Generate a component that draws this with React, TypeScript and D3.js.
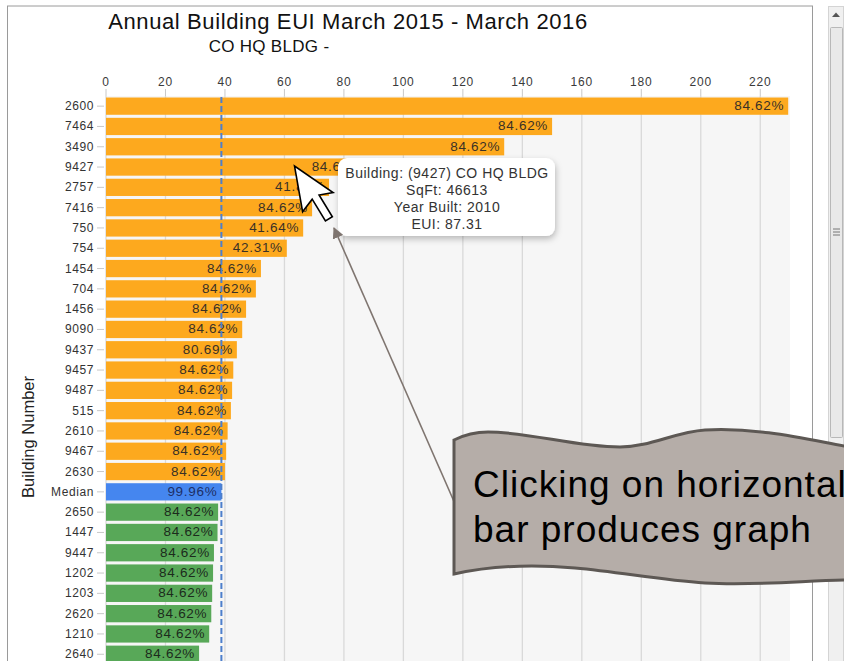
import * as d3 from "d3";
import React from "react";

// building order as shown, top to bottom
const buildings = [
  "2600", "7464", "3490", "9427", "2757", "7416", "750", "754", "1454", "704",
  "1456", "9090", "9437", "9457", "9487", "515", "2610", "9467", "2630", "Median",
  "2650", "1447", "9447", "1202", "1203", "2620", "1210", "2640",
];
// annual EUI per building
const euiValues = [
  229.4, 150, 133.9, 87.31, 75, 69.3, 66.3, 60.8, 52.1, 50.4,
  47.1, 45.8, 44, 42.8, 42.4, 42, 40.9, 40.4, 40, 38.8,
  37.7, 37.5, 36.3, 36, 35.7, 35.4, 34.7, 31.3,
];
// percent labels printed on the bars
const pctLabels = [
  "84.62%", "84.62%", "84.62%", "84.62%", "41.81%", "84.62%", "41.64%", "42.31%", "84.62%", "84.62%",
  "84.62%", "84.62%", "80.69%", "84.62%", "84.62%", "84.62%", "84.62%", "84.62%", "84.62%", "99.96%",
  "84.62%", "84.62%", "84.62%", "84.62%", "84.62%", "84.62%", "84.62%", "84.62%",
];
const xTicks = [0, 20, 40, 60, 80, 100, 120, 140, 160, 180, 200, 220];
const tooltipLines = ["Building: (9427) CO HQ BLDG", "SqFt: 46613", "Year Built: 2010", "EUI: 87.31"];

const W = 844;
const H = 661;
const FONT = "'Liberation Sans', Arial, sans-serif";

export default function App() {
  const x = d3.scaleLinear().domain([0, 230]).range([106, 790]);
  const y = d3
    .scaleBand()
    .domain(buildings)
    .range([96, 96 + buildings.length * 20.3])
    .paddingInner(0.15)
    .paddingOuter(0.075);

  const medianIdx = buildings.indexOf("Median");
  const medianVal = euiValues[medianIdx];
  const plotTop = 96;

  const colorFor = (i: number) =>
    i < medianIdx ? "#fda91e" : i === medianIdx ? "#4586ef" : "#58a858";
  const textFor = (i: number) =>
    i < medianIdx ? "#3a3126" : i === medianIdx ? "#1d2f66" : "#1c2b1c";

  const tipIdx = buildings.indexOf("9427");
  const tipY = (y(buildings[tipIdx]) as number) + y.bandwidth() / 2;

  return (
    <svg
      width={W}
      height={H}
      style={{ position: "absolute", left: 0, top: 0, fontFamily: FONT }}
    >
      <defs>
        <filter id="shadow" x="-20%" y="-20%" width="140%" height="150%">
          <feDropShadow dx="1" dy="3" stdDeviation="3" floodColor="#000" floodOpacity="0.25" />
        </filter>
        <marker id="head" viewBox="0 0 10 10" refX="9" refY="5" markerWidth="7" markerHeight="7" orient="auto">
          <path d="M0,0 L10,5 L0,10 z" fill="#7f7570" />
        </marker>
        <clipPath id="plotClip">
          <rect x={0} y={0} width={812} height={H} />
        </clipPath>
      </defs>

      <rect x={0} y={0} width={W} height={H} fill="#fff" />

      {/* chart frame */}
      <line x1={7} y1={6} x2={813} y2={6} stroke="#9a9a9a" />
      <line x1={7.5} y1={6} x2={7.5} y2={H} stroke="#9a9a9a" />
      <line x1={812.5} y1={6} x2={812.5} y2={H} stroke="#9a9a9a" />

      {/* titles */}
      <text x={348} y={29} textAnchor="middle" fontSize={22} letterSpacing={0.6} fill="#111">
        Annual Building EUI March 2015 - March 2016
      </text>
      <text x={269} y={52} textAnchor="middle" fontSize={17} letterSpacing={0.3} fill="#111">
        CO HQ BLDG -
      </text>

      {/* plot background */}
      <rect x={x(0)} y={plotTop} width={x(230) - x(0)} height={H - plotTop} fill="#f6f6f6" />

      {/* grid + top axis */}
      {xTicks.map((t) => (
        <g key={t}>
          <line x1={x(t)} x2={x(t)} y1={plotTop} y2={H} stroke="#d9d9d9" strokeWidth={1.3} />
          <line x1={x(t)} x2={x(t)} y1={89} y2={plotTop} stroke="#c8c8c8" />
          <text x={x(t)} y={86} textAnchor="middle" fontSize={12} letterSpacing={0.8} fill="#3a3a3a">
            {t}
          </text>
        </g>
      ))}

      {/* y labels */}
      {buildings.map((b) => {
        const cy = (y(b) as number) + y.bandwidth() / 2;
        return (
          <g key={b}>
            <line x1={97} x2={104} y1={cy} y2={cy} stroke="#c8c8c8" />
            <text x={94} y={cy + 4} textAnchor="end" fontSize={12} letterSpacing={0.6} fill="#333">
              {b}
            </text>
          </g>
        );
      })}

      <text
        transform="translate(34,437) rotate(-90)"
        textAnchor="middle"
        fontSize={16.5}
        fill="#222"
      >
        Building Number
      </text>

      {/* bars */}
      <g clipPath="url(#plotClip)">
        {buildings.map((b, i) => (
          <rect
            key={b}
            x={x(0)}
            y={y(b) as number}
            width={x(euiValues[i]) - x(0)}
            height={y.bandwidth()}
            fill={colorFor(i)}
          />
        ))}
        {buildings.map((b, i) => (
          <text
            key={b}
            x={x(euiValues[i]) - 4}
            y={(y(b) as number) + y.bandwidth() / 2 + 4}
            textAnchor="end"
            fontSize={13.5}
            letterSpacing={0.7}
            fill={textFor(i)}
          >
            {pctLabels[i]}
          </text>
        ))}
        {/* median line */}
        <line
          x1={x(medianVal)}
          x2={x(medianVal)}
          y1={plotTop + 1}
          y2={H}
          stroke="#4d7fcc"
          strokeWidth={2}
          strokeDasharray="6,3"
        />
      </g>

      {/* tooltip */}
      <g filter="url(#shadow)">
        <rect x={338} y={tipY - 9} width={217} height={78} rx={9} fill="#fff" />
      </g>
      {tooltipLines.map((l, i) => (
        <text key={l} x={447} y={tipY + 11 + i * 17} textAnchor="middle" fontSize={14} letterSpacing={0.5} fill="#333">
          {l}
        </text>
      ))}

      {/* cursor */}
      <g transform={`translate(${x(63.4)},${tipY - 1}) rotate(-10) scale(2.9)`}>
        <path
          d="M0,0 L0,16 L4,12.3 L7.2,20.5 L9.8,19.5 L6.6,11.3 L11.5,11.3 Z"
          fill="#fff"
          stroke="#000"
          strokeWidth={0.55}
          strokeLinejoin="miter"
        />
      </g>

      {/* scrollbar */}
      <rect x={828.5} y={6.5} width={15} height={H} fill="#f0f0f0" stroke="#d4d4d4" />
      <path d="M832,17 L836,12.5 L840,17 Z" fill="#555" />
      <rect x={830.5} y={27.5} width={12} height={410} fill="#e9e9e9" stroke="#b8b8b8" rx={1} />
      {[229, 232, 235].map((g) => (
        <line key={g} x1={833} x2={840} y1={g} y2={g} stroke="#777" />
      ))}

      {/* annotation arrow */}
      <line x1={456} y1={506} x2={334} y2={228} stroke="#7f7570" strokeWidth={1.6} markerEnd="url(#head)" />

      {/* callout */}
      <path
        d="M454,440 C466,434 476,432 488,432 C530,432 575,447 620,447 C650,447 675,432 705,430 C760,427 810,440 850,447 L850,580 C810,580 760,586 705,583 C660,580 620,572 575,568 C530,564 490,566 454,574 Z"
        fill="#b5ada8"
        stroke="#5d5854"
        strokeWidth={3}
      />
      <text x={473} y={497} fontSize={37} letterSpacing={1} fill="#000">
        Clicking on horizontal
      </text>
      <text x={473} y={542} fontSize={37} letterSpacing={1} fill="#000">
        bar produces graph
      </text>
    </svg>
  );
}
